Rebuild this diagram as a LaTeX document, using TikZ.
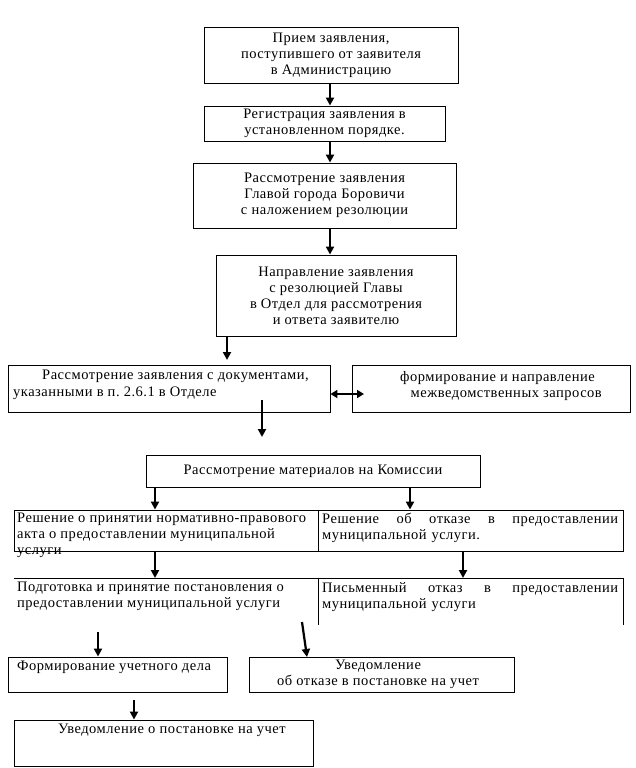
\documentclass[tikz,border=0pt]{standalone}
\usepackage{fontspec}
\setmainfont[LetterSpace=3.5]{Liberation Serif}
\usetikzlibrary{arrows.meta,calc}
\frenchspacing
\begin{document}
\begin{tikzpicture}[x=1pt,y=-1pt,
  fs/.style={font=\fontsize{14.5}{16}\selectfont},
  box/.style={draw, line width=0.9pt, inner sep=0pt, align=center, fs},
  txt/.style={inner sep=0pt, fs, anchor=north west, align=left},
  arr/.style={line width=2.2pt, -{Triangle[width=8pt,length=8pt]}}]
\useasboundingbox (0,0) rectangle (635,768);
% boxes
\node[box, minimum width=254pt, minimum height=56pt] (n1) at (331,55) {Прием заявления,\\поступившего от заявителя\\в Администрацию};
\node[box, minimum width=241pt, minimum height=35pt] (n2) at (324.5,123.5) {Регистрация заявления в\\установленном порядке.};
\node[box, minimum width=263pt, minimum height=65pt] (n3) at (324.5,195.5) {Рассмотрение заявления\\Главой города Боровичи\hspace*{0.5em}\\с наложением резолюции};
\node[box, minimum width=240pt, minimum height=81pt] (n4) at (336,295.5) {Направление заявления\\с резолюцией Главы\hspace*{1.5em}\\в Отдел для рассмотрения\\и ответа заявителю};
\node[box, minimum width=322pt, minimum height=47pt] (n5) at (169,388.5) {};
\node[txt, font=\fontsize{14.5}{17}\selectfont] (t5) at (13,370) {\hspace*{29pt}Рассмотрение заявления с документами,\\указанными в п.\ 2.6.1 в Отделе};
\node[box, minimum width=278pt, minimum height=47pt] (n6) at (491,388.5) {};
\node[txt, anchor=north east, align=right] (t6) at (602,371) {формирование и направление\hspace*{7pt}\\межведомственных запросов};
\node[box, minimum width=334pt, minimum height=32pt] (n7) at (313,471) {Рассмотрение материалов на Комиссии};
% row 1
\node[box, minimum width=304pt, minimum height=41pt] (n8) at (166,530.5) {};
\node[box, minimum width=305pt, minimum height=41pt] (n9) at (470.5,530.5) {};
\node[txt] (t8) at (17,513) {Решение о принятии нормативно-правового\\акта о предоставлении муниципальной\\услуги};
\node[txt, text width=296pt] (t9) at (322,513) {Решение\hfill об\hfill отказе\hfill в\hfill предоставлении\\муниципальной услуги.};
% row 2
\coordinate (r2l) at (14,578);
\coordinate (r2m) at (318,578);
\coordinate (r2r) at (623,578);
\draw[line width=0.9pt] (r2l) -- (r2r);
\draw[line width=0.9pt] (r2m) -- ++(0,47);
\draw[line width=0.9pt] (r2r) -- ++(0,47);
\node[txt] (t10) at (17,582) {Подготовка и принятие постановления о\\предоставлении муниципальной услуги};
\node[txt, text width=296pt] (t11) at (322,582) {Письменный\hfill отказ\hfill в\hfill предоставлении\\муниципальной услуги};
% bottom boxes
\node[box, minimum width=219pt, minimum height=35pt] (n12) at (117.5,674.5) {};
\node[txt] (t12) at (17,661) {Формирование учетного дела};
\node[box, minimum width=265pt, minimum height=35pt] (n13) at (381.5,674.5) {};
\node[txt, align=center, anchor=north] (t13) at (378,660) {Уведомление\\об отказе в постановке на учет};
\node[box, minimum width=299pt, minimum height=46pt] (n14) at (163.5,743) {};
\node[txt] (t14) at (58,724) {Уведомление о постановке на учет};
% arrows
\draw[arr] (n1.south -| 330,0) -- (n2.north -| 330,0);
\draw[arr] (n2.south -| 330,0) -- (n3.north -| 330,0);
\draw[arr] (n3.south -| 330,0) -- (n4.north -| 330,0);
\coordinate (a4e) at (227,360);
\draw[arr] (n4.south -| a4e) -- (a4e);
\coordinate (dbl) at (364,394);
\draw[line width=2pt, {Triangle[width=8pt,length=7pt]}-{Triangle[width=8pt,length=7pt]}] (n5.east |- dbl) -- (dbl);
\coordinate (a5s) at (262,400);
\coordinate (a5e) at (262,437);
\draw[arr] (a5s) -- (a5e);
\draw[arr] (n7.south -| 155,0) -- (n8.north -| 155,0);
\draw[arr] (n7.south -| 410,0) -- (n9.north -| 410,0);
\draw[arr] (n8.south -| 155,0) -- (r2l -| 155,0);
\draw[arr] (n9.south -| 463,0) -- (r2l -| 463,0);
\coordinate (a9s) at (98,632);
\draw[arr] (a9s) -- (n12.north -| a9s);
\coordinate (a10s) at (302,622);
\coordinate (a10e) at (307,657);
\draw[arr] (a10s) -- (a10e);
\coordinate (a14s) at (134,700);
\draw[arr] (a14s) -- (n14.north -| a14s);
\end{tikzpicture}
\end{document}
